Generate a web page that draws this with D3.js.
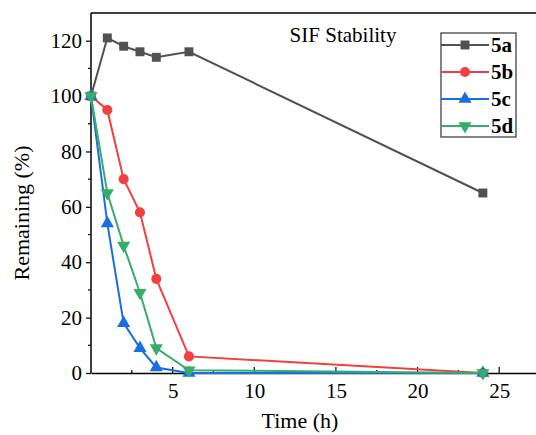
<!DOCTYPE html>
<html>
<head>
<meta charset="utf-8">
<script src="https://cdn.jsdelivr.net/npm/d3@7"></script>
</head>
<body style="margin:0">
<svg id="chart" width="536" height="435" font-family="Liberation Serif"></svg>
<script>
// time points (h)
const times = [0, 1, 2, 3, 4, 6, 24];
const names = ["5a", "5b", "5c", "5d"];
const remain5a = [100, 121, 118, 116, 114, 116, 65];
const remain5b = [100, 95, 70, 58, 34, 6, 0];
const remain5c = [100, 54, 18, 9, 2, 0, 0];
const remain5d = [100, 65, 46, 29, 9, 1, 0];
const xTicks = [5, 10, 15, 20, 25];
const yTicks = [0, 20, 40, 60, 80, 100, 120];

const FONT = '"Liberation Serif"';
const colors = ["#515151", "#F14040", "#1A6FDF", "#37AD6B"];
const symbols = [d3.symbolSquare, d3.symbolCircle, d3.symbolTriangle, d3.symbolTriangle];
const symSize = [80, 80, 75, 75];

const series = [remain5a, remain5b, remain5c, remain5d].map((vals, i) => ({
  name: names[i],
  color: colors[i],
  pts: times.map((t, j) => ({x: t, y: vals[j]}))
}));

const svg = d3.select("#chart");
const plotL = 91, plotT = 13, plotB = 373, plotR = 540;

const x = d3.scaleLinear().domain([0, 27.5]).range([plotL, plotR]);
const y = d3.scaleLinear().domain([0, 130]).range([plotB, plotT]);

// top frame line, right side runs off the canvas
svg.append("line")
  .attr("x1", plotL).attr("x2", plotR).attr("y1", plotT).attr("y2", plotT)
  .attr("stroke", "#000").attr("stroke-width", 1.5);

// x axis, ticks inward
const xAxis = svg.append("g").attr("transform", `translate(0,${plotB})`)
  .call(d3.axisBottom(x).tickValues(xTicks).tickSize(0).tickPadding(10).tickFormat(d3.format("d")));
xAxis.attr("font-family", "Liberation Serif").attr("font-size", 21);
xAxis.select(".domain").attr("stroke-width", 1.5);
xAxis.selectAll("text").attr("font-family", "Liberation Serif").style("font-family", FONT).attr("fill", "#000");
svg.append("g").selectAll("line")
  .data(d3.range(2.5, 27.5, 2.5))
  .join("line")
    .attr("x1", d => x(d)).attr("x2", d => x(d))
    .attr("y1", plotB).attr("y2", d => plotB - (d % 5 === 0 ? 6 : 3))
    .attr("stroke", "#000").attr("stroke-width", 1.2);

// y axis, major ticks outward
const yAxis = svg.append("g").attr("transform", `translate(${plotL},0)`)
  .call(d3.axisLeft(y).tickValues(yTicks).tickSize(5).tickPadding(4));
yAxis.attr("font-family", "Liberation Serif").attr("font-size", 21);
yAxis.select(".domain").attr("stroke-width", 1.5).attr("d", `M0,${plotT}V${plotB}`);
yAxis.selectAll(".tick line").attr("stroke-width", 1.2);
yAxis.selectAll("text").attr("font-family", "Liberation Serif").style("font-family", FONT).attr("fill", "#000");
svg.append("g").selectAll("line")
  .data(d3.range(10, 130, 20))
  .join("line")
    .attr("x1", plotL).attr("x2", plotL - 3)
    .attr("y1", d => y(d)).attr("y2", d => y(d))
    .attr("stroke", "#000").attr("stroke-width", 1.2);

// axis titles
svg.append("text")
  .attr("x", 300).attr("y", 428)
  .attr("text-anchor", "middle")
  .style("font-family", FONT).attr("font-size", 22)
  .text("Time (h)");
svg.append("text")
  .attr("transform", `translate(29,${(plotT + plotB) / 2 + 20}) rotate(-90)`)
  .attr("text-anchor", "middle")
  .style("font-family", FONT).attr("font-size", 22)
  .text("Remaining (%)");

// lines, then markers on top
const line = d3.line().x(d => x(d.x)).y(d => y(d.y));

series.forEach(s => {
  svg.append("path")
    .attr("d", line(s.pts))
    .attr("fill", "none")
    .attr("stroke", s.color)
    .attr("stroke-width", 2);
});
series.forEach((s, i) => {
  svg.append("g").selectAll("path")
    .data(s.pts)
    .join("path")
      .attr("d", d3.symbol(symbols[i], symSize[i]))
      .attr("transform", d => `translate(${x(d.x)},${y(d.y)})` + (i === 3 ? " rotate(180)" : ""))
      .attr("fill", s.color);
});

// title
svg.append("text")
  .attr("x", 343).attr("y", 42)
  .attr("text-anchor", "middle")
  .style("font-family", FONT).attr("font-size", 21)
  .text("SIF Stability");

// legend
const lg = svg.append("g");
lg.append("rect")
  .attr("x", 441).attr("y", 33).attr("width", 75).attr("height", 104)
  .attr("fill", "#fff").attr("stroke", "#333").attr("stroke-width", 1.2);
series.forEach((s, i) => {
  const ly = 45 + i * 27;
  lg.append("line")
    .attr("x1", 441).attr("x2", 489).attr("y1", ly).attr("y2", ly)
    .attr("stroke", s.color).attr("stroke-width", 2);
  lg.append("path")
    .attr("d", d3.symbol(symbols[i], symSize[i]))
    .attr("transform", `translate(465,${ly})` + (i === 3 ? " rotate(180)" : ""))
    .attr("fill", s.color);
  lg.append("text")
    .attr("x", 491).attr("y", ly + 7)
    .style("font-family", FONT).attr("font-size", 21).attr("font-weight", "bold")
    .text(s.name);
});
</script>
</body>
</html>
